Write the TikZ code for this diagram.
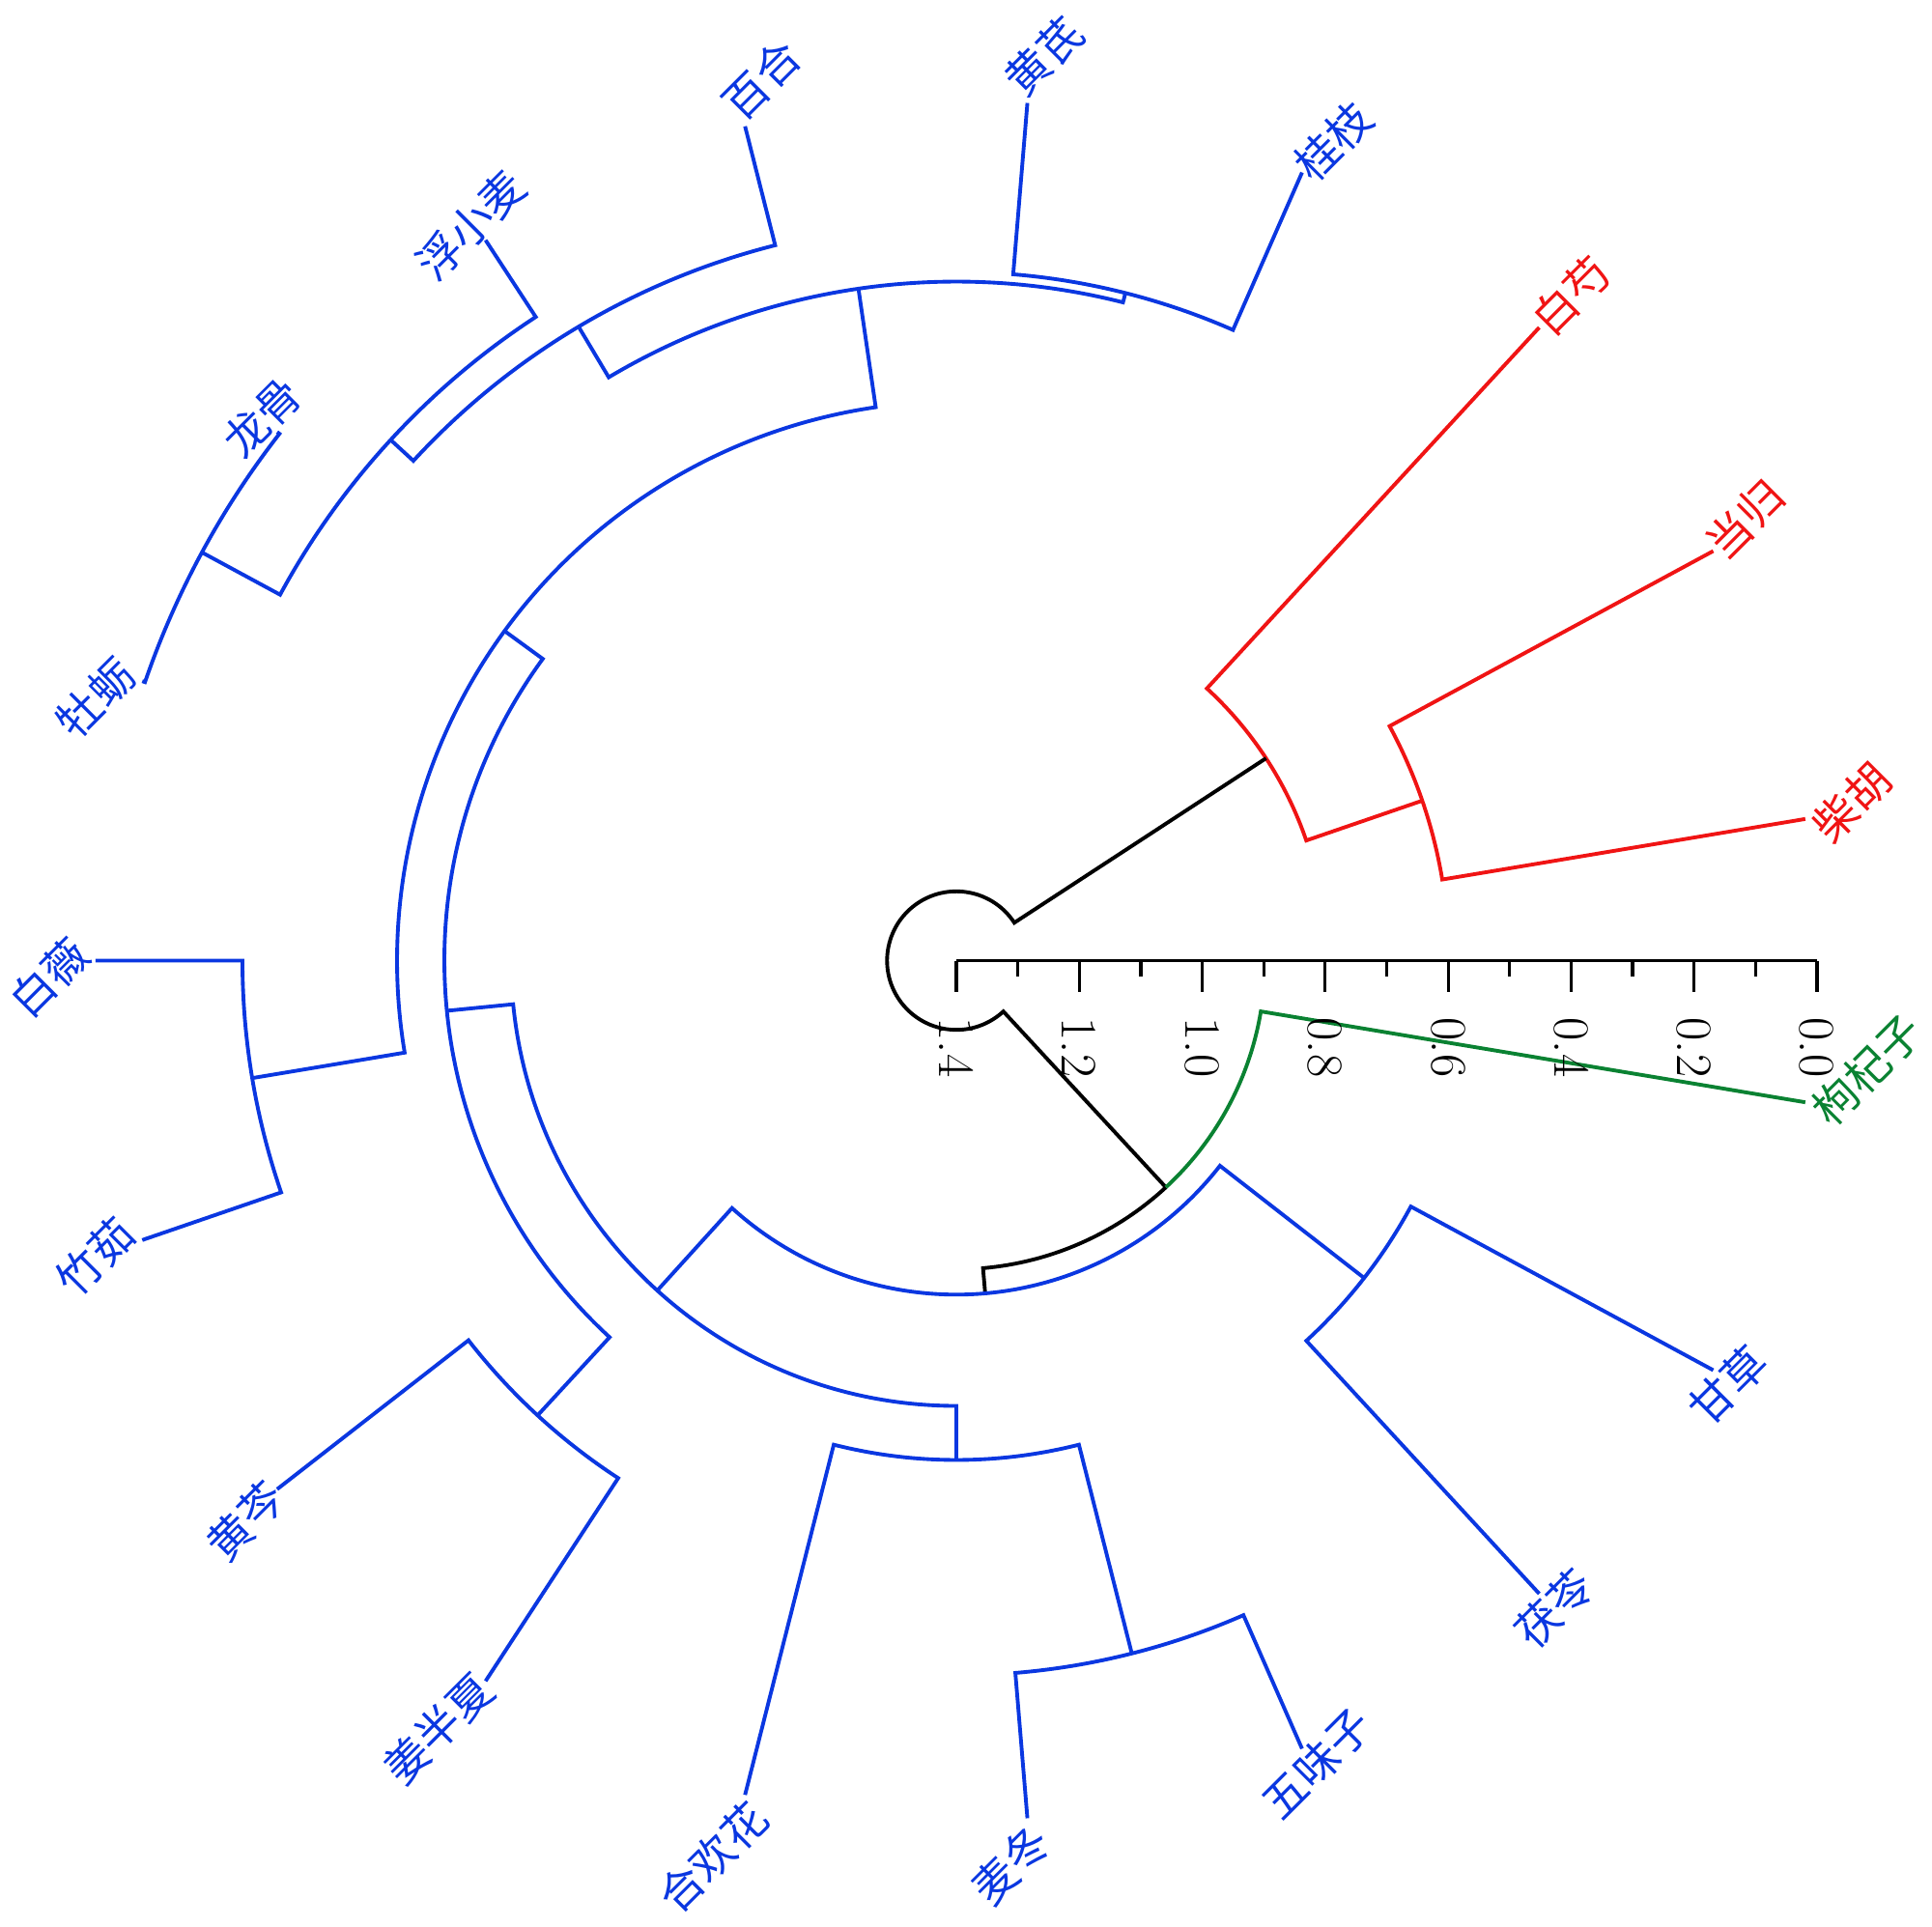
\documentclass[tikz,border=0pt]{standalone}
\usepackage{fontspec}
\newfontfamily\cjk{Noto Sans CJK SC}
\definecolor{dblue}{RGB}{10,55,225}
\definecolor{dred}{RGB}{240,20,20}
\definecolor{dgreen}{RGB}{10,130,50}
% #1 style, #2 node radius, #3 child1 angle, #4 child1 radius, #5 child2 angle, #6 child2 radius
\newcommand\dlink[6]{\draw[#1] (#3:#4) -- (#3:#2) arc[start angle=#3, end angle=#5, radius=#2] -- (#5:#6);}
\begin{document}
\begin{tikzpicture}[
  br/.style={line width=1.1pt, line join=miter},
  lab/.style={rotate=45, inner sep=0pt, font=\cjk\fontsize{13}{13}\selectfont},
  ticklab/.style={rotate=-90, anchor=west, inner sep=0pt, font=\fontsize{15}{15}\selectfont},
  axisline/.style={line width=0.9pt}
]
\useasboundingbox (-9.90,-9.995) rectangle (10.10,9.945);
\fill[white] (-9.90,-9.995) rectangle (10.10,9.945);

% leaf end points
\def\LR{8.91}
\coordinate (L1) at (9.474:\LR);
\coordinate (L2) at (28.421:\LR);
\coordinate (L3) at (47.368:\LR);
\coordinate (L4) at (66.316:\LR);
\coordinate (L5) at (85.263:\LR);
\coordinate (L6) at (104.211:\LR);
\coordinate (L7) at (123.158:\LR);
\coordinate (L8) at (142.105:\LR);
\coordinate (L9) at (161.053:\LR);
\coordinate (L10) at (180:\LR);
\coordinate (L11) at (198.947:\LR);
\coordinate (L12) at (217.895:\LR);
\coordinate (L13) at (236.842:\LR);
\coordinate (L14) at (255.789:\LR);
\coordinate (L15) at (274.737:\LR);
\coordinate (L16) at (293.684:\LR);
\coordinate (L17) at (312.632:\LR);
\coordinate (L18) at (331.579:\LR);
\coordinate (L19) at (350.526:\LR);

% internal nodes
\coordinate (nA) at (18.947:5.10);
\coordinate (nR) at (33.158:3.83);
\coordinate (nRoot) at (0,0);
\coordinate (nP) at (312.743:3.196);
\coordinate (nO) at (274.959:3.458);
\coordinate (nM) at (227.8125:4.61);
\coordinate (nL) at (270.0:5.17);
\coordinate (nK) at (284.211:7.40);
\coordinate (nN) at (322.105:5.35);
\coordinate (nJ) at (185.625:5.30);
\coordinate (nI) at (227.368:6.40);
\coordinate (nH) at (143.882:5.79);
\coordinate (nG) at (189.474:7.39);
\coordinate (nF) at (98.289:7.03);
\coordinate (nB) at (75.789:7.13);
\coordinate (nE) at (120.789:7.64);
\coordinate (nD) at (137.368:7.96);
\coordinate (nC) at (151.579:8.88);

% red cluster
\dlink{br,dred}{5.10}{9.474}{\LR}{28.421}{\LR}
\dlink{br,dred}{3.83}{18.947}{5.10}{47.368}{\LR}

% root (black)
\dlink{br,black}{0.717}{33.158}{3.83}{312.743}{3.196}

% node P: black half toward blue cluster, green half toward leaf 19
\draw[br,black] (274.959:3.458) -- (274.959:3.196) arc[start angle=274.959, end angle=312.743, radius=3.196];
\draw[br,dgreen] (312.743:3.196) arc[start angle=312.743, end angle=350.526, radius=3.196] -- (L19);

% blue cluster
\dlink{br,dblue}{3.458}{227.8125}{4.61}{322.105}{5.35}
\dlink{br,dblue}{5.35}{312.632}{\LR}{331.579}{\LR}
\dlink{br,dblue}{4.61}{185.625}{5.30}{270.0}{5.17}
\dlink{br,dblue}{5.17}{255.789}{\LR}{284.211}{7.40}
\dlink{br,dblue}{7.40}{274.737}{\LR}{293.684}{\LR}
\dlink{br,dblue}{5.30}{143.882}{5.79}{227.368}{6.40}
\dlink{br,dblue}{6.40}{217.895}{\LR}{236.842}{\LR}
\dlink{br,dblue}{5.79}{98.289}{7.03}{189.474}{7.39}
\dlink{br,dblue}{7.39}{180}{\LR}{198.947}{\LR}
\dlink{br,dblue}{7.03}{75.789}{7.13}{120.789}{7.64}
\dlink{br,dblue}{7.13}{66.316}{\LR}{85.263}{\LR}
\dlink{br,dblue}{7.64}{104.211}{\LR}{137.368}{7.96}
\dlink{br,dblue}{7.96}{123.158}{\LR}{151.579}{8.88}
\dlink{br,dblue}{8.88}{142.105}{\LR}{161.053}{\LR}

% labels
\node[lab, anchor=north west, text=dred] (t1) at (L1) {柴胡};
\node[lab, anchor=west, text=dred] (t2) at (L2) {当归};
\node[lab, anchor=west, text=dred] (t3) at (L3) {白芍};
\node[lab, anchor=west, text=dblue] (t4) at (L4) {桂枝};
\node[lab, anchor=south west, text=dblue] (t5) at (L5) {黄芪};
\node[lab, anchor=south west, text=dblue] (t6) at (L6) {百合};
\node[lab, anchor=south, text=dblue] (t7) at (L7) {浮小麦};
\node[lab, anchor=south, text=dblue] (t8) at (L8) {龙骨};
\node[lab, anchor=south east, text=dblue] (t9) at (L9) {牡蛎};
\node[lab, anchor=south east, text=dblue] (t10) at (L10) {白薇};
\node[lab, anchor=south east, text=dblue] (t11) at (L11) {竹茹};
\node[lab, anchor=east, text=dblue] (t12) at (L12) {黄芩};
\node[lab, anchor=east, text=dblue] (t13) at (L13) {姜半夏};
\node[lab, anchor=north east, text=dblue] (t14) at (L14) {合欢花};
\node[lab, anchor=north east, text=dblue] (t15) at (L15) {麦冬};
\node[lab, anchor=north, text=dblue] (t16) at (L16) {五味子};
\node[lab, anchor=north, text=dblue] (t17) at (L17) {茯苓};
\node[lab, anchor=north, text=dblue] (t18) at (L18) {甘草};
\node[lab, anchor=north west, text=dgreen] (t19) at (L19) {枸杞子};

% axis
\coordinate (ax0) at (0,0);
\coordinate (ax1) at (8.9096,0);
\draw[axisline] (ax0) -- (ax1);
\foreach \x/\t in {0/1.4, 1.2728/1.2, 2.5456/1.0, 3.8184/0.8, 5.0912/0.6, 6.364/0.4, 7.6368/0.2, 8.9096/0.0}{
  \draw[axisline] (\x,0) -- (\x,-0.32);
  \node[ticklab] at (\x,-0.585) {\t};
}
\foreach \x in {0.6364, 1.9092, 3.182, 4.4548, 5.7276, 7.0004, 8.2732}{
  \draw[axisline] (\x,0) -- (\x,-0.16);
}
\end{tikzpicture}
\end{document}
